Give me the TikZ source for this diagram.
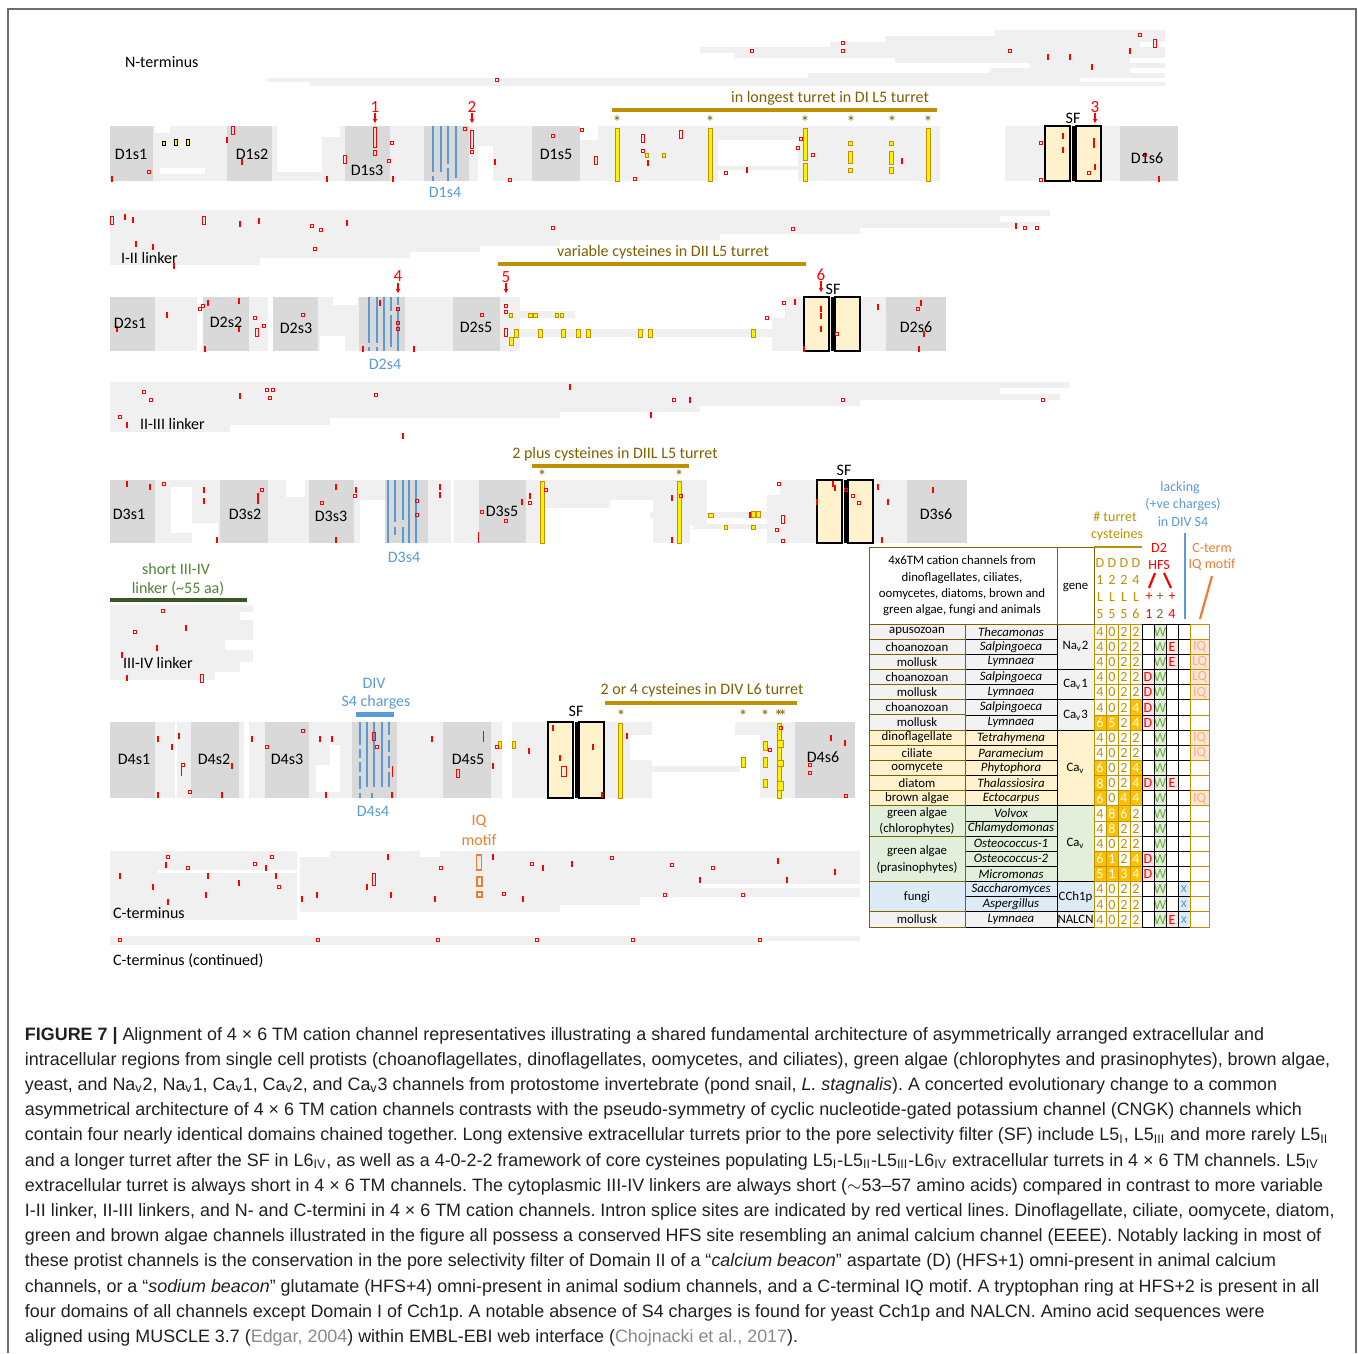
\documentclass[tikz,border=0pt]{standalone}
\usepackage{fontspec}
\setmainfont{Liberation Sans}
\newfontfamily\carlito{Carlito}
\usetikzlibrary{arrows.meta}
\definecolor{algn}{HTML}{F0F0F0}
\definecolor{domg}{HTML}{D9D9D9}
\definecolor{sfy}{HTML}{FFF2CC}
\definecolor{barg}{HTML}{BF9000}
\definecolor{goldt}{HTML}{7F6000}
\definecolor{s4b}{HTML}{5B9BD5}
\definecolor{grn}{HTML}{548235}
\definecolor{dgrn}{HTML}{375623}
\definecolor{org}{HTML}{ED7D31}
\definecolor{hl}{HTML}{FFC000}
\definecolor{lgrn}{HTML}{E2EFDA}
\definecolor{lblu}{HTML}{DDEBF7}
\definecolor{lred}{HTML}{FCE4E4}
\definecolor{lorg}{HTML}{FBE5D6}
\definecolor{iqt}{HTML}{F4B183}
\definecolor{wgrn}{HTML}{70AD47}
\definecolor{capt}{HTML}{231F20}
\definecolor{refg}{HTML}{8A8A8A}
\definecolor{lgray}{HTML}{F2F2F2}
\definecolor{ylw}{HTML}{FFF2CC}
\definecolor{ybar}{HTML}{FFF200}
\definecolor{frm}{HTML}{6E6E6E}
\newcommand\agb[4]{\fill[algn] (#1,#2) rectangle (#3,#4);}
\newcommand\awb[4]{\fill[white] (#1,#2) rectangle (#3,#4);}
\newcommand\ars[2]{\draw[redm] ({#1-1.7},{#2-1.7}) rectangle ({#1+1.7},{#2+1.7});}
\newcommand\arb[2]{\draw[redm] ({#1-1.6},{#2-4}) rectangle ({#1+1.6},{#2+4});}
\newcommand\art[2]{\draw[redt] (#1,{#2-3}) -- (#1,{#2+3});}
\newcommand\ayb[4]{\draw[ybox] (#1,#2) rectangle (#3,#4);}
\newcommand\adom[4]{\fill[domg] (#1,#2) rectangle (#3,#4);}
\newcommand\sfpair[3]{% left x, top, bottom
  \draw[sfbox] (#1,#2) rectangle ({#1+25},#3);
  \fill[black] ({#1+26.5},#2) rectangle ({#1+29.5},#3);
  \draw[sfbox] ({#1+31},#2) rectangle ({#1+56},#3);}
\newcommand\bl[3]{\draw[s4l] (#1,#2) -- (#1,#3);}
\newcommand\rowy[1]{(624+15.15*(#1-1))}
\newcommand\DCell[4]{%
  \pgfmathsetmacro\cxa{1094+12*#1}%
  \pgfmathsetmacro\cya{624+15.15*(#2-1)}%
  \ifnum#4=1\relax
    \fill[hl] (\cxa,\cya) rectangle ++(12,15.15);
    \node[tabd,text=white] (dg-#2-#1) at ({\cxa+6},{\cya+7.8}) {#3};
  \else
    \node[tabd,text=barg] (dg-#2-#1) at ({\cxa+6},{\cya+7.8}) {#3};
  \fi
  \draw[gridg] (\cxa,\cya) rectangle ++(12,15.15);}
\newcommand\DR[9]{\DCell{0}{#1}{#2}{#6}\DCell{1}{#1}{#3}{#7}\DCell{2}{#1}{#4}{#8}\DCell{3}{#1}{#5}{#9}}
\newcommand\FL[6]{%
  \pgfmathsetmacro\cya{624+15.15*(#3-1)}%
  \fill[#4] (#1,\cya) rectangle ++(#2,15.15);
  \node[tabd,text=#5] (fl-#1-#3) at ({#1+#2/2},{\cya+7.8}) {#6};}
\begin{document}
\begin{tikzpicture}[x=0.5pt,y=-0.5pt,
  every node/.style={inner sep=0pt,outer sep=0pt},
  lab/.style={font=\carlito\fontsize{8}{9.6}\selectfont,text=black},
  blab/.style={font=\carlito\fontsize{8}{9.6}\selectfont,text=s4b},
  glab/.style={font=\carlito\fontsize{8}{9.6}\selectfont,text=goldt},
  rnum/.style={font=\carlito\fontsize{8.5}{10}\selectfont,text=red},
  ast/.style={font=\carlito\fontsize{9}{10}\selectfont,text=goldt},
  tab/.style={font=\carlito\fontsize{6.4}{8.15}\selectfont,text=black},
  tabd/.style={font=\carlito\fontsize{7}{8}\selectfont},
  hlab/.style={font=\carlito\fontsize{7}{8.6}\selectfont,align=center},
  captxt/.style={font=\fontsize{8.95}{10}\selectfont\frenchspacing,text=capt,anchor=base west},
  redm/.style={draw=red,line width=0.5pt},
  redt/.style={draw=red,line width=0.6pt},
  ybox/.style={fill=ybar,draw=barg,line width=0.4pt},
  sfbox/.style={fill=sfy,draw=black,line width=0.6pt},
  s4l/.style={draw=s4b,line width=1.3pt},
  gbar/.style={draw=barg,line width=2pt},
  rarr/.style={draw=red,line width=0.6pt,-{Stealth[length=2.2pt,width=2.4pt]}},
  gridk/.style={draw=black,line width=0.4pt},
  gridb/.style={draw=goldt,line width=0.45pt},
  gridg/.style={draw=barg,line width=0.4pt}]
\useasboundingbox (0,0) rectangle (1358,1353);
\fill[white] (0,0) rectangle (1358,1353);
\draw[frm,line width=0.8pt] (8,1353) -- (8,9) -- (1356,9) -- (1356,1353);

% ---------------- N-terminus ----------------
\agb{995}{30}{1165}{36}
\agb{885}{36}{1165}{42}
\agb{830}{42}{1140}{47}
\agb{700}{47}{1165}{53}
\agb{735}{53}{1165}{58}
\agb{895}{58}{1130}{63}
\agb{1030}{63}{1165}{68}
\agb{990}{68}{1130}{73}
\agb{808}{73}{1165}{78}
\agb{268}{78}{1080}{82}
\agb{310}{82}{1165}{86}
\ars{1140}{35}\arb{1155}{44}\ars{843}{43}\ars{843}{51}\ars{752}{51}\ars{1010}{51}
\art{1048}{57}\art{1070}{57}\art{1130}{51}\ars{497}{80}\art{1092}{67}
\node[lab,anchor=west] (nterm) at (125,62) {N-terminus};

% ---------------- Domain I ----------------
\agb{110}{126}{1178}{181}
\awb{277}{126}{322}{172}
\awb{322}{126}{340}{137}
\awb{155}{126}{170}{133}
\awb{160}{168}{205}{174}
\awb{478}{146}{493}{181}
\awb{580}{126}{598}{140}
\awb{718}{140}{798}{166}
\awb{718}{170}{798}{181}
\awb{940}{126}{1005}{181}
\adom{110}{126}{153}{181}\adom{227}{126}{272}{181}\adom{345}{126}{390}{181}
\adom{424}{126}{469}{181}\adom{532}{126}{580}{181}\adom{1120}{126}{1178}{181}
\bl{433}{126}{172}\bl{433}{176}{181}\bl{441}{126}{172}\bl{448}{126}{164}\bl{448}{168}{181}\bl{456}{126}{178}
\sfpair{1045}{126}{181}
% turret
\draw[gbar] (612,110) -- (937,110);
\node[glab] (t1) at (830,98) {in longest turret in DI L5 turret};
\foreach \xx [count=\k] in {617,710,805,851,892,928} {\node[ast] (a1-\k) at (\xx,122) {*};}
\ayb{615}{128}{619}{181}\ayb{708}{128}{712}{181}\ayb{803}{128}{807}{160}\ayb{803}{163}{807}{181}\ayb{926}{128}{930}{181}
\ayb{848.5}{141}{852}{145}\ayb{848.5}{151}{852}{163}\ayb{848.5}{168}{852}{172}
\ayb{889}{141}{893}{145}\ayb{889}{151}{893}{164}\ayb{889}{167}{893}{173}
\ayb{645.5}{153}{648.5}{157}\ayb{662.5}{153}{665.5}{157}
\draw[fill=ybar,draw=black,line width=0.4pt] (162,141) rectangle (165.5,145);
\draw[fill=ybar,draw=black,line width=0.4pt] (174.5,139) rectangle (177.5,145);
\draw[fill=ybar,draw=black,line width=0.4pt] (186.5,139) rectangle (189.5,145);
\ars{149}{172}\art{112}{179}\arb{233}{131}\art{227}{140}\art{242}{162}\arb{345}{160}
\draw[redm] (373.5,128) rectangle (376.5,148);\draw[redm] (373.5,151) rectangle (376.5,156);
\ars{392}{143}\ars{389}{161}\art{327}{179}\art{393}{179}\ars{465}{129}
\draw[redm] (470.5,131) rectangle (473.5,149);\draw[redm] (470.5,151) rectangle (473.5,154);
\art{495}{162}\ars{510}{180}\ars{553}{136}\ars{582}{130}\arb{596}{161}
\arb{643}{139}\ars{643}{151}\arb{681}{135}\art{648}{163}\ars{635}{179}\ars{726}{173}\art{747}{170}
\ars{801}{139}\ars{798}{148}\ars{813}{155}\art{902}{161}\ars{1041}{143}\ars{1041}{180}
\art{1063}{136}\art{1063}{150}\art{1094}{141}\art{1094}{145}\ars{1089}{173}\art{1095}{167}\ars{1145}{155}\art{1159}{179}
\node[lab] (d1s1) at (131,154) {D1s1};
\node[lab] (d1s2) at (252,154) {D1s2};
\node[lab] (d1s3) at (367,170) {D1s3};
\node[blab] (d1s4) at (445,192) {D1s4};
\node[lab] (d1s5) at (556,154) {D1s5};
\node[lab] (d1s6) at (1147,158) {D1s6};
\node[rnum] (n1) at (375,107) {1};\draw[rarr] (375,113) -- (375,123);
\node[rnum] (n2) at (472,107) {2};\draw[rarr] (472,113) -- (472,123);
\node[rnum] (n3) at (1095,107) {3};\draw[rarr] (1095,113) -- (1095,123);
\node[lab] (sf1) at (1073,118) {SF};

% ---------------- I-II linker ----------------
\agb{110}{210}{1050}{216}
\agb{110}{216}{1000}{222}
\agb{110}{222}{1040}{228}
\agb{110}{228}{860}{234}
\agb{110}{234}{720}{240}
\agb{110}{240}{560}{246}
\agb{110}{246}{480}{252}
\agb{110}{252}{410}{258}
\agb{110}{258}{260}{265}
\arb{112}{221}\art{125}{217}\art{133}{220}\arb{204}{221}\art{240}{224}\art{259}{221}
\ars{312}{226}\ars{321}{230}\art{347}{223}\ars{553}{228}\ars{793}{229}\art{1016}{226}\ars{1025}{228}\ars{1037}{228}
\art{136}{244}\art{153}{247}\ars{315}{249}\art{174}{266}
\node[lab,anchor=west] (l12) at (121,258) {I-II linker};

% ---------------- Domain II ----------------
\agb{110}{297}{946}{351}
\awb{197}{297}{203}{351}
\awb{268}{297}{273}{351}
\awb{320}{336}{345}{351}
\awb{333}{297}{358}{305}
\awb{520}{297}{772}{351}
\agb{520}{311}{575}{318}
\agb{520}{329}{790}{337}
\awb{772}{297}{785}{318}
\adom{110}{297}{155}{351}\adom{203}{297}{249}{351}\adom{273}{297}{318}{351}
\adom{359}{297}{405}{351}\adom{453}{297}{500}{351}\adom{886}{297}{946}{351}
\bl{369}{297}{343}\bl{369}{347}{351}\bl{377}{297}{343}\bl{377}{347}{351}\bl{384}{297}{351}
\bl{391}{297}{311}\bl{391}{315}{347}\bl{398}{297}{305}\bl{398}{308}{351}
\sfpair{804}{297}{351}
\draw[gbar] (498,264) -- (806,264);
\node[glab] (t2) at (663,252) {variable cysteines in DII L5 turret};
\ayb{509}{313}{512.5}{317}\ayb{528.5}{313}{532}{317}\ayb{533.5}{313}{537}{317}\ayb{555}{313}{558.5}{317}\ayb{560}{313}{563.5}{317}
\ayb{514}{329}{518}{337}\ayb{538}{329}{542}{337}\ayb{561}{329}{565}{337}\ayb{576}{329}{580}{337}\ayb{586}{329}{590}{337}
\ayb{638}{329}{642}{337}\ayb{648}{329}{652}{337}\ayb{751}{329}{755}{337}\ayb{509}{337}{513}{345}
\ars{506}{306}\ars{506}{312}\arb{506}{333}
\art{117}{329}\art{167}{315}\ars{200}{309}\ars{203}{306}\art{208}{303}\art{239}{301}\art{239}{329}\art{205}{349}
\ars{255}{318}\ars{264}{326}\arb{257}{333}\ars{303}{315}\art{380}{303}\ars{398}{309}\ars{398}{323}\ars{398}{329}
\art{363}{349}\art{414}{349}\ars{482}{315}
\ars{784}{303}\art{795}{302}\ars{767}{318}\art{821}{309}\art{821}{316}\art{821}{329}\ars{837}{334}\art{804}{349}
\ars{918}{309}\art{921}{303}\art{924}{334}\art{919}{349}\art{878}{307}
\node[lab] (d2s1) at (130,323) {D2s1};
\node[lab] (d2s2) at (226,322) {D2s2};
\node[lab] (d2s3) at (296,328) {D2s3};
\node[blab] (d2s4) at (385,364) {D2s4};
\node[lab] (d2s5) at (476,327) {D2s5};
\node[lab] (d2s6) at (916,327) {D2s6};
\node[rnum] (n4) at (398,276) {4};\draw[rarr] (398,283) -- (398,293);
\node[rnum] (n5) at (506,277) {5};\draw[rarr] (506,283) -- (506,293);
\node[rnum] (n6) at (821,275) {6};\draw[rarr] (821,281) -- (821,292);
\node[lab] (sf2) at (833,289) {SF};

% ---------------- II-III linker ----------------
\agb{110}{382}{1070}{388}
\agb{110}{388}{1000}{394}
\agb{110}{394}{1060}{400}
\agb{110}{400}{860}{406}
\agb{110}{406}{700}{412}
\agb{110}{412}{560}{418}
\agb{110}{418}{330}{425}
\agb{110}{425}{230}{432}
\ars{144}{392}\ars{151}{400}\ars{120}{417}\art{127}{425}\ars{267}{390}\ars{273}{390}\ars{270}{398}\ars{376}{395}
\art{570}{387}\ars{674}{400}\art{690}{400}\ars{843}{400}\ars{1043}{400}\art{403}{436}\art{651}{415}\art{240}{396}
\node[lab,anchor=west] (l23) at (140,424) {II-III linker};

% ---------------- Domain III ----------------
\agb{110}{480}{545}{543}
\awb{171}{487}{192}{533}
\awb{192}{523}{218}{543}
\awb{286}{480}{305}{497}
\awb{360}{500}{385}{543}
\awb{451}{480}{454}{543}
\agb{545}{480}{653}{500}
\agb{545}{500}{610}{508}
\agb{653}{480}{707}{543}
\awb{690}{525}{707}{543}
\agb{650}{512}{790}{518}
\agb{693}{524}{780}{529}
\agb{767}{480}{817}{543}
\awb{767}{480}{780}{495}
\agb{872}{480}{907}{543}
\adom{110}{480}{155}{543}\adom{220}{480}{268}{543}\adom{309}{480}{354}{543}
\adom{385}{480}{428}{543}\adom{479}{480}{526}{543}\adom{907}{480}{967}{543}
\bl{388}{480}{543}\bl{395}{480}{522}\bl{395}{527}{535}\bl{403}{480}{520}\bl{403}{527}{543}\bl{409}{480}{543}\bl{416}{480}{543}
\sfpair{817}{480}{543}
\draw[gbar] (532,466) -- (689,466);
\node[glab] (t3) at (615,454) {2 plus cysteines in DIIL L5 turret};
\node[ast] (a3-1) at (542,476) {*};\node[ast] (a3-2) at (679,476) {*};
\ayb{540}{481}{544}{543}\ayb{677}{481}{681}{543}
\ayb{708.5}{513}{713}{517}\ayb{751}{511}{755}{517}\ayb{756}{511}{760}{517}\ayb{724.5}{525}{727.5}{529}\ayb{751.5}{525}{755}{529}
\art{127}{484}\art{150}{487}\ars{164}{484}\art{204}{490}\art{204}{501}\ars{262}{490}\art{258}{496}\art{258}{501}\art{217}{540}
\art{336}{487}\art{356}{490}\ars{355}{496}\ars{322}{503}\art{336}{540}\ars{417}{501}\ars{417}{515}\art{440}{487}\art{440}{495}
\draw[redt] (478.6,532) -- (478.6,543);\ars{482}{512}\ars{506}{521}\art{522}{502}\art{530}{496}\ars{530}{503}\ars{546}{490}
\art{672}{498}\ars{681}{496}\art{672}{540}\ars{779}{484}\arb{783}{519}\ars{777}{530}\ars{783}{541}\art{750}{515}
\art{833}{484}\art{835}{488}\art{817}{502}\ars{846}{490}\ars{853}{496}\ars{859}{503}\art{878}{487}\art{888}{502}\art{882}{540}\art{933}{490}
\node[lab] (d3s1) at (129,514) {D3s1};
\node[lab] (d3s2) at (245,514) {D3s2};
\node[lab] (d3s3) at (331,516) {D3s3};
\node[blab] (d3s4) at (404,557) {D3s4};
\node[lab] (d3s5) at (502,511) {D3s5};
\node[lab] (d3s6) at (936,514) {D3s6};
\node[lab] (sf3) at (844,470) {SF};

% ---------------- III-IV linker ----------------
\node[font=\carlito\fontsize{8}{9.6}\selectfont,text=grn] (s34a) at (176,569) {short III-IV};
\node[font=\carlito\fontsize{8}{9.6}\selectfont,text=grn] (s34b) at (178,589) {linker (\textasciitilde55 aa)};
\draw[dgrn,line width=2pt] (110,600) -- (247,600);
\agb{110}{605}{253}{612}
\agb{110}{612}{240}{620}
\agb{110}{620}{253}{640}
\agb{110}{640}{225}{650}
\agb{110}{650}{253}{662}
\agb{110}{662}{240}{672}
\agb{110}{672}{215}{680}
\ars{163}{611}\art{186}{628}\ars{135}{632}\art{157}{648}\art{122}{655}\arb{202}{678}\art{127}{678}
\node[lab,anchor=west] (l34) at (123,663) {III-IV linker};

% ---------------- Domain IV ----------------
\agb{110}{722}{548}{798}
\awb{175}{722}{177}{798}
\awb{244}{722}{249}{798}
\awb{316}{765}{340}{792}
\awb{330}{745}{340}{765}
\awb{502}{722}{512}{798}
\agb{604}{722}{652}{798}
\awb{630}{735}{652}{760}
\agb{652}{766}{740}{772}
\agb{735}{722}{760}{735}
\agb{760}{722}{795}{798}
\adom{110}{722}{155}{798}\adom{191}{722}{239}{798}\adom{265}{722}{309}{798}
\adom{352}{722}{397}{798}\adom{443}{722}{491}{798}\adom{795}{722}{855}{798}
\bl{360}{722}{745}\bl{360}{749}{758}\bl{360}{762}{772}\bl{360}{776}{789}\bl{360}{793}{798}
\bl{367}{722}{787}\bl{374}{722}{787}\bl{382}{722}{787}\bl{372}{793}{798}
\bl{389}{722}{735}\bl{389}{740}{752}\bl{389}{756}{768}\bl{389}{772}{787}
\sfpair{548}{722}{798}
\draw[s4b,line width=2.5pt] (356,714) -- (394,714);
\node[blab] (div1) at (374,683) {DIV};
\node[blab] (div2) at (376,702) {S4 charges};
\draw[gbar] (605,703) -- (797,703);
\node[glab] (t4) at (702,690) {2 or 4 cysteines in DIV L6 turret};
\foreach \xx [count=\k] in {621,743,765,778.5,782.5} {\node[ast] (a4-\k) at (\xx,716) {*};}
\ayb{618}{723}{622}{798}\ayb{777}{723}{781}{798}
\ayb{777}{740}{783}{747}\ayb{777}{760}{783}{766}\ayb{777}{781}{783}{790}
\ayb{763}{741}{767}{750}\ayb{741}{757}{745}{767}\ayb{763}{757}{767}{767}\ayb{763}{779}{767}{787}
\ayb{498}{741}{501}{748}\ayb{512}{741}{515}{748}
\art{158}{739}\art{179}{736}\art{172}{747}\ars{183}{765}\draw[redt] (181.7,765) -- (181.7,776);\ars{190}{792}\art{158}{795}
\art{232}{766}\art{222}{795}\art{252}{739}\ars{267}{747}\ars{303}{731}\art{320}{739}\art{332}{739}\art{326}{795}
\arb{374}{736}\ars{377}{747}\draw[redt] (392.3,766) -- (392.3,777);\art{392}{795}\art{432}{739}\arb{458}{773}
\draw[redt] (483.3,731) -- (483.3,742);\art{493}{766}\ars{497}{747}\art{529}{751}
\art{553}{728}\art{560}{758}\draw[redm] (561.5,766) rectangle (566,776);\art{593}{747}\art{602}{795}\art{627}{736}
\ars{781}{728}\ars{770}{750}\art{831}{738}\art{845}{743}\ars{810}{765}\ars{810}{773}\ars{846}{796}
\node[lab] (d4s1) at (134,759) {D4s1};
\node[lab] (d4s2) at (214,759) {D4s2};
\node[lab] (d4s3) at (287,759) {D4s3};
\node[blab] (d4s4) at (373,811) {D4s4};
\node[lab] (d4s5) at (468,759) {D4s5};
\node[lab] (d4s6) at (823,757) {D4s6};
\node[lab] (sf4) at (576,711) {SF};

% ---------------- IQ motif ----------------
\node[font=\carlito\fontsize{8}{9.6}\selectfont,text=org] (iq1) at (479,821) {IQ};
\node[font=\carlito\fontsize{8}{9.6}\selectfont,text=org] (iq2) at (479,840) {motif};

% ---------------- C-terminus ----------------
\agb{110}{851}{297}{920}
\awb{158}{870}{297}{873}
\agb{330}{851}{860}{857}
\agb{300}{857}{860}{905}
\agb{300}{905}{560}{912}
\awb{420}{851}{440}{857}
\awb{700}{884}{860}{888}
\awb{640}{897}{860}{905}
\draw[org,line width=0.6pt] (476.7,855) rectangle (481.7,870);
\draw[org,line width=0.6pt] (477,877) rectangle (482,886);
\draw[org,line width=0.6pt] (477,892) rectangle (482,897);
\ars{168}{857}\art{166}{865}\ars{188}{868}\art{120}{876}\art{153}{887}\art{168}{902}\art{208}{876}\art{206}{895}
\ars{255}{864}\art{266}{868}\ars{272}{857}\art{239}{883}\art{276}{876}\ars{279}{887}\art{302}{899}\art{317}{895}
\art{388}{857}\draw[redm] (372.5,873) rectangle (375.5,885);\art{367}{887}\art{391}{895}\ars{441}{868}\art{435}{899}
\art{493}{857}\ars{504}{894}\ars{532}{864}\art{543}{868}\art{523}{899}\art{572}{864}
\ars{612}{858}\ars{672}{865}\ars{713}{868}\art{700}{880}\art{778}{861}\art{787}{880}\art{835}{872}\ars{743}{895}\ars{665}{895}
\node[lab,anchor=west] (cterm) at (113,913) {C-terminus};
\agb{110}{936}{860}{941}
\agb{110}{941}{760}{945}
\ars{120}{940}\ars{318}{940}\ars{438}{940}\ars{537}{940}\ars{633}{940}\ars{760}{940}
\node[lab,anchor=west] (cterm2) at (113,961) {C-terminus (continued)};

% ---------------- Table ----------------
\fill[lgray] (869,624) rectangle (1094,{\rowy{8}});
\fill[ylw] (869,{\rowy{8}}) rectangle (1094,{\rowy{13}});
\fill[lgrn] (869,{\rowy{13}}) rectangle (1094,{\rowy{18}});
\fill[lblu] (869,{\rowy{18}}) rectangle (1094,{\rowy{20}});
\fill[lgray] (869,{\rowy{20}}) rectangle (1094,{\rowy{21}});
\foreach \i in {1,...,20} {\draw[gridk] (965,{\rowy{\i}}) rectangle (1057,{\rowy{\i+1}});}
\foreach \a/\b in {1/2,2/3,3/4,4/5,5/6,6/7,7/8,8/9,9/10,10/11,11/12,12/13,13/15,15/18,18/20,20/21}
  {\draw[gridb] (869,{\rowy{\a}}) rectangle (965,{\rowy{\b}});}
\foreach \a/\b in {1/4,4/6,6/8,8/13,13/18,18/20,20/21}
  {\draw[gridk] (1057,{\rowy{\a}}) rectangle (1094,{\rowy{\b}});}
% class names
\foreach \t [count=\r] in {apusozoan,choanozoan,mollusk,choanozoan,mollusk,choanozoan,mollusk,dinoflagellate,ciliate,oomycete,diatom,brown algae}
  {\node[tab] (cls-\r) at (917,{\rowy{\r}+7.6}) {\t};}
\node[tab] (cls-13a) at (917,813.5) {green algae};
\node[tab] (cls-13b) at (917,829) {(chlorophytes)};
\node[tab] (cls-15a) at (917,851) {green algae};
\node[tab] (cls-15b) at (917,868) {(prasinophytes)};
\node[tab] (cls-18) at (917,{\rowy{19}}) {fungi};
\node[tab] (cls-20) at (917,{\rowy{20}+7.6}) {mollusk};
% genus names
\foreach \t [count=\r] in {Thecamonas,Salpingoeca,Lymnaea,Salpingoeca,Lymnaea,Salpingoeca,Lymnaea,Tetrahymena,Paramecium,Phytophora,Thalassiosira,Ectocarpus,Volvox,Chlamydomonas,Osteococcus-1,Osteococcus-2,Micromonas,Saccharomyces,Aspergillus,Lymnaea}
  {\node[tab,font=\carlito\itshape\fontsize{6.4}{8}\selectfont] (gen-\r) at (1011,{\rowy{\r}+7.6}) {\t};}
% gene names
\node[tab] (g1) at (1075.5,{\rowy{2}+7.6}) {Na\textsubscript{v}2};
\node[tab] (g2) at (1075.5,{\rowy{5}}) {Ca\textsubscript{v}1};
\node[tab] (g3) at (1075.5,{\rowy{7}}) {Ca\textsubscript{v}3};
\node[tab] (g4) at (1075.5,{\rowy{10}+7.6}) {Ca\textsubscript{v}};
\node[tab] (g5) at (1075.5,{\rowy{15}+7.6}) {Ca\textsubscript{v}};
\node[tab] (g6) at (1075.5,{\rowy{19}}) {CCh1p};
\node[tab] (g7) at (1075.5,{\rowy{20}+7.6}) {NALCN};
% digits
\DR{1}{4}{0}{2}{2}{0}{0}{0}{0}
\DR{2}{4}{0}{2}{2}{0}{0}{0}{0}
\DR{3}{4}{0}{2}{2}{0}{0}{0}{0}
\DR{4}{4}{0}{2}{2}{0}{0}{0}{0}
\DR{5}{4}{0}{2}{2}{0}{0}{0}{0}
\DR{6}{4}{0}{2}{4}{0}{0}{0}{1}
\DR{7}{6}{5}{2}{4}{1}{1}{0}{1}
\DR{8}{4}{0}{2}{2}{0}{0}{0}{0}
\DR{9}{4}{0}{2}{2}{0}{0}{0}{0}
\DR{10}{6}{0}{2}{4}{1}{0}{0}{1}
\DR{11}{8}{0}{2}{4}{1}{0}{0}{1}
\DR{12}{6}{0}{4}{4}{1}{0}{1}{1}
\DR{13}{4}{8}{6}{2}{0}{1}{1}{0}
\DR{14}{4}{8}{2}{2}{0}{1}{0}{0}
\DR{15}{4}{0}{2}{2}{0}{0}{0}{0}
\DR{16}{6}{1}{2}{4}{1}{1}{0}{1}
\DR{17}{5}{1}{3}{4}{1}{1}{1}{1}
\DR{18}{4}{0}{2}{2}{0}{0}{0}{0}
\DR{19}{4}{0}{2}{2}{0}{0}{0}{0}
\DR{20}{4}{0}{2}{2}{0}{0}{0}{0}
% flags
\foreach \r in {1,...,20} {\FL{1154}{12}{\r}{lgrn}{wgrn}{W}}
\foreach \r in {4,5,6,7,11,16,17} {\FL{1142}{12}{\r}{lred}{red}{D}}
\foreach \r in {2,3,11,20} {\FL{1166}{12}{\r}{lred}{red}{E}}
\foreach \r in {18,19,20} {\FL{1178}{12}{\r}{lblu}{s4b}{x}}
\foreach \r/\t in {2/IQ,3/LQ,4/LQ,5/IQ,8/IQ,9/IQ,12/IQ} {\FL{1190}{19}{\r}{lorg}{iqt}{\t}}
\foreach \r in {1,...,20} {
  \foreach \xx in {1142,1154,1166,1178} {\draw[gridk] (\xx,{\rowy{\r}}) rectangle ++(12,15.15);}
  \draw[gridg] (1190,{\rowy{\r}}) rectangle ++(19,15.15);}
% header
\draw[gridb] (869,547) rectangle (1057,624);
\draw[gridb] (1057,547) rectangle (1094,624);
\draw[barg,line width=1.2pt] (1094,547) -- (1142,547);
\node[tab,align=center] (hdr) at (962,586) {4x6TM cation channels from\\dinoflagellates, ciliates,\\oomycetes, diatoms, brown and\\green algae, fungi and animals};
\node[tab] (hgene) at (1075.5,587) {gene};
\foreach \xx [count=\k] in {1100,1112,1124,1136} {
  \node[tabd,text=barg] (hD-\k) at (\xx,563) {D};
  \node[tabd,text=barg] (hL-\k) at (\xx,597) {L};}
\foreach \xx/\t [count=\k] in {1100/1,1112/2,1124/2,1136/4} {\node[tabd,text=barg] (hn-\k) at (\xx,580) {\t};}
\foreach \xx/\t [count=\k] in {1100/5,1112/5,1124/5,1136/6} {\node[tabd,text=barg] (hm-\k) at (\xx,614) {\t};}
\node[tabd,text=red] (hp1) at (1149,597) {+};\node[tabd,text=grn] (hp2) at (1160,597) {+};\node[tabd,text=red] (hp3) at (1172,597) {+};
\node[tabd,text=red] (hq1) at (1149,614) {1};\node[tabd,text=grn] (hq2) at (1160,614) {2};\node[tabd,text=red] (hq3) at (1172,614) {4};
\node[hlab,text=barg] (tc1) at (1115,517) {\# turret};
\node[hlab,text=barg] (tc2) at (1117,535) {cysteines};
\node[hlab,text=red] (hfs1) at (1159,548) {D2};
\node[hlab,text=red] (hfs2) at (1159,565) {HFS};
\node[hlab,text=s4b] (lk1) at (1180,488) {lacking};
\node[hlab,text=s4b] (lk2) at (1183,505) {(+ve charges)};
\node[hlab,text=s4b] (lk3) at (1183,522) {in DIV S4};
\node[hlab,text=org] (ct1) at (1212,548) {C-term};
\node[hlab,text=org] (ct2) at (1212,565) {IQ motif};
\draw[red,line width=1.1pt] (1155,573) -- (1149,588);
\draw[red,line width=1.1pt] (1164,573) -- (1171,588);
\draw[s4b,line width=1.1pt] (1185,533) -- (1185,619);
\draw[org,line width=1.1pt] (1212,576) -- (1200,619);

% ---------------- Caption ----------------
\node[captxt] (c1) at (25,1040) {\textbf{FIGURE 7 |} Alignment of 4 × 6 TM cation channel representatives illustrating a shared fundamental architecture of asymmetrically arranged extracellular and};
\node[captxt] (c2) at (25,1065.2) {intracellular regions from single cell protists (choanoflagellates, dinoflagellates, oomycetes, and ciliates), green algae (chlorophytes and prasinophytes), brown algae,};
\node[captxt] (c3) at (25,1090.4) {yeast, and Na\textsubscript{v}2, Na\textsubscript{v}1, Ca\textsubscript{v}1, Ca\textsubscript{v}2, and Ca\textsubscript{v}3 channels from protostome invertebrate (pond snail, \textit{L. stagnalis}). A concerted evolutionary change to a common};
\node[captxt] (c4) at (25,1115.6) {asymmetrical architecture of 4 × 6 TM cation channels contrasts with the pseudo-symmetry of cyclic nucleotide-gated potassium channel (CNGK) channels which};
\node[captxt] (c5) at (25,1140.8) {contain four nearly identical domains chained together. Long extensive extracellular turrets prior to the pore selectivity filter (SF) include L5\textsubscript{I}, L5\textsubscript{III} and more rarely L5\textsubscript{II}};
\node[captxt] (c6) at (25,1166) {and a longer turret after the SF in L6\textsubscript{IV}, as well as a 4-0-2-2 framework of core cysteines populating L5\textsubscript{I}-L5\textsubscript{II}-L5\textsubscript{III}-L6\textsubscript{IV} extracellular turrets in 4 × 6 TM channels. L5\textsubscript{IV}};
\node[captxt] (c7) at (25,1191.2) {extracellular turret is always short in 4 × 6 TM channels. The cytoplasmic III-IV linkers are always short ($\sim$53–57 amino acids) compared in contrast to more variable};
\node[captxt] (c8) at (25,1216.4) {I-II linker, II-III linkers, and N- and C-termini in 4 × 6 TM cation channels. Intron splice sites are indicated by red vertical lines. Dinoflagellate, ciliate, oomycete, diatom,};
\node[captxt] (c9) at (25,1241.6) {green and brown algae channels illustrated in the figure all possess a conserved HFS site resembling an animal calcium channel (EEEE). Notably lacking in most of};
\node[captxt] (c10) at (25,1266.8) {these protist channels is the conservation in the pore selectivity filter of Domain II of a “\textit{calcium beacon}” aspartate (D) (HFS+1) omni-present in animal calcium};
\node[captxt] (c11) at (25,1292) {channels, or a “\textit{sodium beacon}” glutamate (HFS+4) omni-present in animal sodium channels, and a C-terminal IQ motif. A tryptophan ring at HFS+2 is present in all};
\node[captxt] (c12) at (25,1317.2) {four domains of all channels except Domain I of Cch1p. A notable absence of S4 charges is found for yeast Cch1p and NALCN. Amino acid sequences were};
\node[captxt] (c13) at (25,1342.4) {aligned using MUSCLE 3.7 (\textcolor{refg}{Edgar, 2004}) within EMBL-EBI web interface (\textcolor{refg}{Chojnacki et al., 2017}).};
\end{tikzpicture}
\end{document}
